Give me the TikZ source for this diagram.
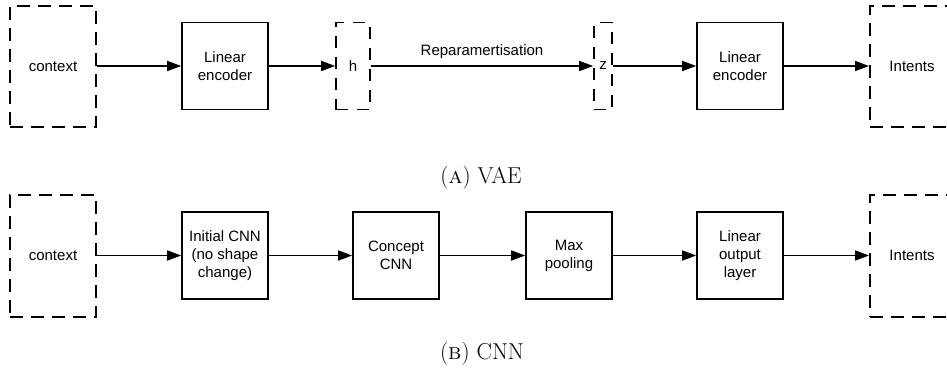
\documentclass[tikz,border=0pt]{standalone}
\usepackage{fontspec}
\setsansfont{Liberation Sans}
\usetikzlibrary{arrows.meta}
\begin{document}
\begin{tikzpicture}[x=1pt,y=-1pt,
  lbl/.style={font=\sffamily\fontsize{15}{18}\selectfont, inner sep=0pt, align=center},
  box/.style={draw, line width=1.6pt, minimum width=86pt, minimum height=87pt, inner sep=0pt, lbl},
  dbox/.style={box, dash pattern=on 13pt off 8pt},
  arr/.style={line width=1.6pt, -{Triangle[length=14pt,width=10pt]}},
  captxt/.style={font=\fontsize{23}{27}\selectfont, inner sep=0pt}
]
\useasboundingbox (0,0) rectangle (947,376);
% VAE row
\node[dbox, minimum height=121pt] (ctx1) at (53,66.5) {context};
\node[box] (enc1) at (225,66) {Linear\\encoder};
\node[dbox, minimum width=34pt, dash pattern=on 12pt off 9pt] (h) at (353,66) {h};
\node[dbox, minimum width=18pt, dash pattern=on 12pt off 9pt] (z) at (603,66) {z};
\node[box] (enc2) at (740,66) {Linear\\encoder};
\node[dbox, minimum height=121pt, minimum width=120pt, anchor=west] (int1) at (869,66.5) {};
\node[lbl] (intA) at (912,66) {Intents};
\draw[arr] (ctx1.east |- enc1.west) -- (enc1.west);
\draw[arr] (enc1.east) -- (h.west);
\draw[arr] (h.east) -- node[above=7pt, lbl] (rep) {Reparamertisation} (z.west);
\draw[arr] (z.east) -- (enc2.west);
\draw[arr] (enc2.east) -- (int1.west |- enc2.east);
\node[captxt] (capA) at (481,178) {(\textsc{a}) VAE};
% CNN row
\node[dbox, minimum height=122pt] (ctx2) at (53,256) {context};
\node[box] (cnn1) at (225,255.5) {Initial CNN\\(no shape\\change)};
\node[box] (cnn2) at (396,255.5) {Concept\\CNN};
\node[box] (pool) at (569,255.5) {Max\\pooling};
\node[box] (lin) at (740,255.5) {Linear\\output\\layer};
\node[dbox, minimum height=122pt, minimum width=120pt, anchor=west] (int2) at (869,256) {};
\node[lbl] (intB) at (912,255) {Intents};
\draw[arr] (ctx2.east |- cnn1.west) -- (cnn1.west);
\draw[arr] (cnn1.east) -- (cnn2.west);
\draw[arr] (cnn2.east) -- (pool.west);
\draw[arr] (pool.east) -- (lin.west);
\draw[arr] (lin.east) -- (int2.west |- lin.east);
\node[captxt] (capB) at (482,354) {(\textsc{b}) CNN};
\end{tikzpicture}
\end{document}
